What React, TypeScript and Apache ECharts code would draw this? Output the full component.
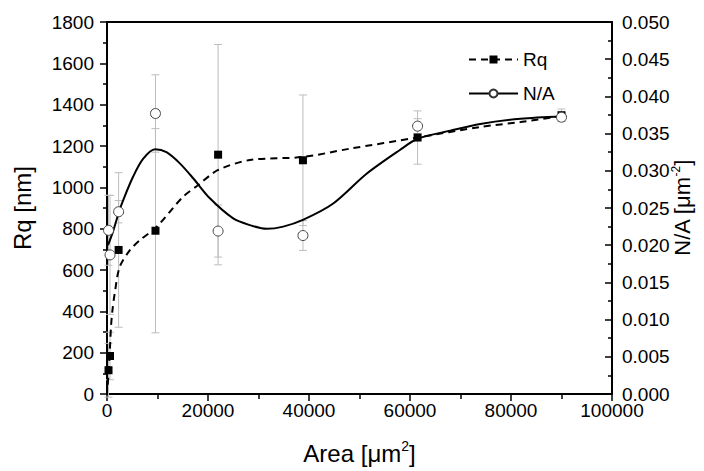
import React, { useEffect, useRef } from "react";
import * as echarts from "echarts";

// Measured data points (Area in µm², Rq in nm, N/A in µm⁻²)
const AREA = [300, 600, 2300, 9600, 22000, 38800, 61500, 90000];
const RQ = [115, 184, 697, 790, 1158, 1131, 1241, 1349];
const RQ_ERR = [130, 115, 374, 494, 533, 316, 129, 30];
const NA = [0.022, 0.0187, 0.0245, 0.0377, 0.0219, 0.0213, 0.036, 0.0372];
const NA_ERR = [0.0047, 0.008, 0.0015, 0.0052, 0.0035, 0.002, 0.001, 0.0005];

// Fitted curves
const RQ_FIT_X = [150, 350, 600, 800, 1100, 1500, 2500, 4500, 6500, 9800, 15000, 18000, 22000, 28300, 38800, 48100, 61500, 73900, 81900, 90000];
const RQ_FIT_Y = [45, 120, 230, 330, 410, 482, 614, 695, 744, 808, 953, 1010, 1084, 1132, 1147, 1187, 1241, 1292, 1316, 1344];
const NA_FIT_X = [200, 1270, 2380, 3170, 5160, 7140, 9520, 11780, 14420, 17060, 20370, 24990, 28300, 31600, 34900, 38800, 44800, 51400, 58000, 61500, 68000, 73900, 81900, 90000];
const NA_FIT_Y = [0.02, 0.022, 0.0245, 0.026, 0.0292, 0.0316, 0.0329, 0.0325, 0.031, 0.029, 0.0263, 0.0236, 0.0227, 0.0222, 0.0225, 0.0234, 0.0256, 0.0296, 0.0328, 0.0343, 0.0354, 0.0363, 0.037, 0.0373];

const FONT = "Liberation Sans, Arial, sans-serif";

export default function App() {
  const ref = useRef<HTMLDivElement>(null);
  useEffect(() => {
    if (!ref.current) return;
    const chart = echarts.init(ref.current, null, { renderer: "svg" });

    const errRender = (params: any, api: any) => {
      const x = api.value(0);
      const lo = api.value(1);
      const hi = api.value(2);
      const p1 = api.coord([x, hi]);
      const p2 = api.coord([x, lo]);
      const hw = 4;
      const style = { stroke: "#bdbdbd", lineWidth: 1 };
      return {
        type: "group",
        children: [
          { type: "line", shape: { x1: p1[0], y1: p1[1], x2: p2[0], y2: p2[1] }, style },
          { type: "line", shape: { x1: p1[0] - hw, y1: p1[1], x2: p1[0] + hw, y2: p1[1] }, style },
          { type: "line", shape: { x1: p2[0] - hw, y1: p2[1], x2: p2[0] + hw, y2: p2[1] }, style },
        ],
      };
    };

    const axisLine = { show: true, onZero: false, lineStyle: { color: "#000", width: 2 } };
    const tickStyle = { color: "#000", width: 1.5 };

    chart.setOption({
      animation: false,
      backgroundColor: "#fff",
      textStyle: { fontFamily: FONT },
      grid: {
        left: 107,
        right: 92,
        top: 22,
        bottom: 77,
        containLabel: false,
        outerBoundsMode: "none",
      },
      legend: {
        data: ["Rq", "N/A"],
        orient: "vertical",
        left: 468,
        top: 50,
        padding: 0,
        itemWidth: 49,
        itemHeight: 10,
        itemGap: 15,
        textStyle: { fontSize: 19, color: "#000", fontFamily: FONT },
      },
      xAxis: [
        {
          type: "value",
          min: 0,
          max: 100000,
          interval: 20000,
          name: "{a|Area [μm}{s|2}{a|]}",
          nameLocation: "middle",
          nameGap: 45,
          nameMoveOverlap: false,
          nameTextStyle: {
            rich: {
              a: { fontSize: 24, fontFamily: FONT, color: "#000", lineHeight: 28 },
              s: { fontSize: 14, fontFamily: FONT, color: "#000", verticalAlign: "top" },
            },
          },
          axisLine,
          axisTick: { show: true, length: 7, lineStyle: tickStyle },
          minorTick: { show: true, splitNumber: 2, length: 5, lineStyle: tickStyle },
          splitLine: { show: false },
          axisLabel: {
            fontSize: 19,
            color: "#000",
            margin: 7,
            fontFamily: FONT,
            formatter: (v: number) => String(v),
          },
        },
        {
          type: "value",
          position: "top",
          min: 0,
          max: 100000,
          axisLine,
          axisTick: { show: false },
          axisLabel: { show: false },
          splitLine: { show: false },
        },
      ],
      yAxis: [
        {
          type: "value",
          min: 0,
          max: 1800,
          interval: 200,
          name: "Rq [nm]",
          nameLocation: "middle",
          nameGap: 73,
          nameMoveOverlap: false,
          nameTextStyle: { fontSize: 24, color: "#000", fontFamily: FONT },
          axisLine,
          axisTick: { show: true, length: 7, lineStyle: tickStyle },
          minorTick: { show: true, splitNumber: 2, length: 4, lineStyle: tickStyle },
          splitLine: { show: false },
          axisLabel: {
            fontSize: 19,
            color: "#000",
            margin: 13,
            fontFamily: FONT,
            formatter: (v: number) => String(v),
          },
        },
        {
          type: "value",
          min: 0,
          max: 0.05,
          interval: 0.005,
          position: "right",
          name: "{a|N/A [μm}{s|-2}{a|]}",
          nameLocation: "middle",
          nameGap: 58,
          nameMoveOverlap: false,
          nameTextStyle: {
            rich: {
              a: { fontSize: 22, fontFamily: FONT, color: "#000", lineHeight: 24 },
              s: { fontSize: 12, fontFamily: FONT, color: "#000", verticalAlign: "top" },
            },
          },
          axisLine,
          axisTick: { show: true, inside: true, length: 7, lineStyle: tickStyle },
          minorTick: { show: true, splitNumber: 2, length: 4, lineStyle: tickStyle },
          splitLine: { show: false },
          axisLabel: {
            fontSize: 19,
            color: "#000",
            margin: 10,
            fontFamily: FONT,
            formatter: (v: number) => v.toFixed(3),
          },
        },
      ],
      series: [
        {
          name: "RqErr",
          type: "custom",
          xAxisIndex: 0,
          yAxisIndex: 0,
          renderItem: errRender,
          data: AREA.map((x, i) => [x, RQ[i] - RQ_ERR[i], RQ[i] + RQ_ERR[i]]),
          z: 1,
          silent: true,
        },
        {
          name: "NAErr",
          type: "custom",
          xAxisIndex: 0,
          yAxisIndex: 1,
          renderItem: errRender,
          data: AREA.map((x, i) => [x, NA[i] - NA_ERR[i], NA[i] + NA_ERR[i]]),
          z: 1,
          silent: true,
        },
        {
          name: "Rq",
          type: "line",
          xAxisIndex: 0,
          yAxisIndex: 0,
          data: RQ_FIT_X.map((x, i) => [x, RQ_FIT_Y[i]]),
          smooth: 0.3,
          showSymbol: false,
          symbol: "rect",
          symbolSize: 9,
          itemStyle: { color: "#000" },
          lineStyle: { color: "#000", width: 2, type: [7, 5] },
          z: 2,
        },
        {
          name: "N/A",
          type: "line",
          xAxisIndex: 0,
          yAxisIndex: 1,
          data: NA_FIT_X.map((x, i) => [x, NA_FIT_Y[i]]),
          smooth: 0.3,
          showSymbol: false,
          symbol: "circle",
          symbolSize: 10,
          itemStyle: { color: "#fff", borderColor: "#333", borderWidth: 1 },
          lineStyle: { color: "#000", width: 2 },
          z: 2,
        },
        {
          name: "RqPts",
          type: "scatter",
          xAxisIndex: 0,
          yAxisIndex: 0,
          data: AREA.map((x, i) => [x, RQ[i]]),
          symbol: "rect",
          symbolSize: 8,
          itemStyle: { color: "#000", opacity: 1 },
          z: 3,
        },
        {
          name: "NAPts",
          type: "scatter",
          xAxisIndex: 0,
          yAxisIndex: 1,
          data: AREA.map((x, i) => [x, NA[i]]),
          symbol: "circle",
          symbolSize: 10,
          itemStyle: { color: "#fff", borderColor: "#444", borderWidth: 1, opacity: 1 },
          z: 4,
        },
      ],
    });
    return () => chart.dispose();
  }, []);
  return (
    <div
      ref={ref}
      style={{ position: "absolute", left: 0, top: 0, width: 704, height: 471 }}
    />
  );
}
